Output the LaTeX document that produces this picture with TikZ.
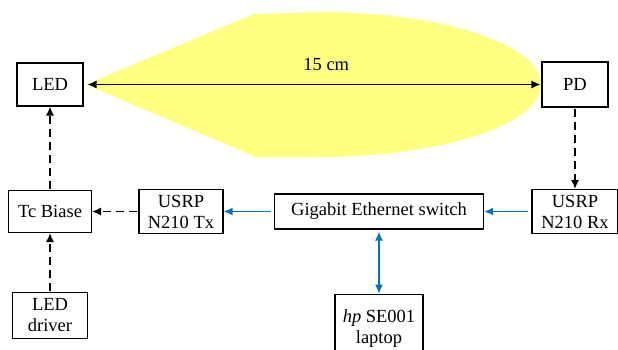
\documentclass[tikz,border=0pt]{standalone}
\usepackage{fontspec}
\setmainfont{Liberation Serif}
\usetikzlibrary{positioning, arrows.meta}
\definecolor{beamyellow}{RGB}{255,255,128}
\definecolor{linkblue}{RGB}{0,112,192}

\begin{document}
\begin{tikzpicture}[x=1pt, y=-1pt, >={Latex[length=9pt,width=8pt]}, line width=1.2pt,
                    font=\rmfamily\fontsize{18.5}{21}\selectfont,
                    block/.style={rectangle, draw, align=center, inner sep=1pt, minimum height=#1},
                    block/.default=43pt,
                    dashlink/.style={->, dash pattern=on 8pt off 5pt, shorten <=1pt},
                    ethlink/.style={->, linkblue, line width=1.4pt, shorten <=3pt}]

    \useasboundingbox (0,0) rectangle (618,350);

    % light beam from LED to PD
    \fill[beamyellow] (86,84.5) -- (254,14) -- (320,12)
        arc[start angle=90, end angle=-90, x radius=221pt, y radius=72.5pt]
        -- (256,157) -- cycle;

    \node[block, minimum width=66pt]               (LED) at (50,84.5)                  {LED};
    \node[block=42pt, minimum width=83pt]          (tcb) [below of=LED, node distance=127pt] {Tc Biase};
    \node[block=46pt, minimum width=75pt]          (drv) [below of=tcb, node distance=104pt] {LED\\driver};
    \node[block=44pt, minimum width=84pt]          (tx)  [right of=tcb, node distance=131pt] {USRP\\N210 Tx};
    \node[block=35pt, minimum width=209pt]         (sw)  [right of=tx, node distance=198pt]  {Gigabit Ethernet switch};
    \node[block=44pt, minimum width=86pt]          (rx)  [right of=sw, node distance=196pt]  {USRP\\N210 Rx};
    \node[block=45pt, minimum width=66pt]          (PD)  [above of=rx, node distance=127pt]  {PD};
    \node[block=68pt, minimum width=88pt, anchor=north] (hp) at ([yshift=-64pt]sw.south) {\textit{hp} SE001\\laptop};

    \draw[<->, shorten <=4pt, shorten >=1pt] (LED) -- node[above=10pt, pos=0.53] {15 cm} (PD);

    \draw[dashlink] (drv) -- (tcb);
    \draw[dashlink] (tcb) -- (LED);
    \draw[dashlink] (tx) -- (tcb);
    \draw[dashlink] (PD) -- (rx);

    \draw[ethlink] (sw) -- (tx);
    \draw[ethlink] (rx) -- (sw);
    \draw[ethlink, <->, shorten <=2pt] (sw) -- (hp);

\end{tikzpicture}
\end{document}
